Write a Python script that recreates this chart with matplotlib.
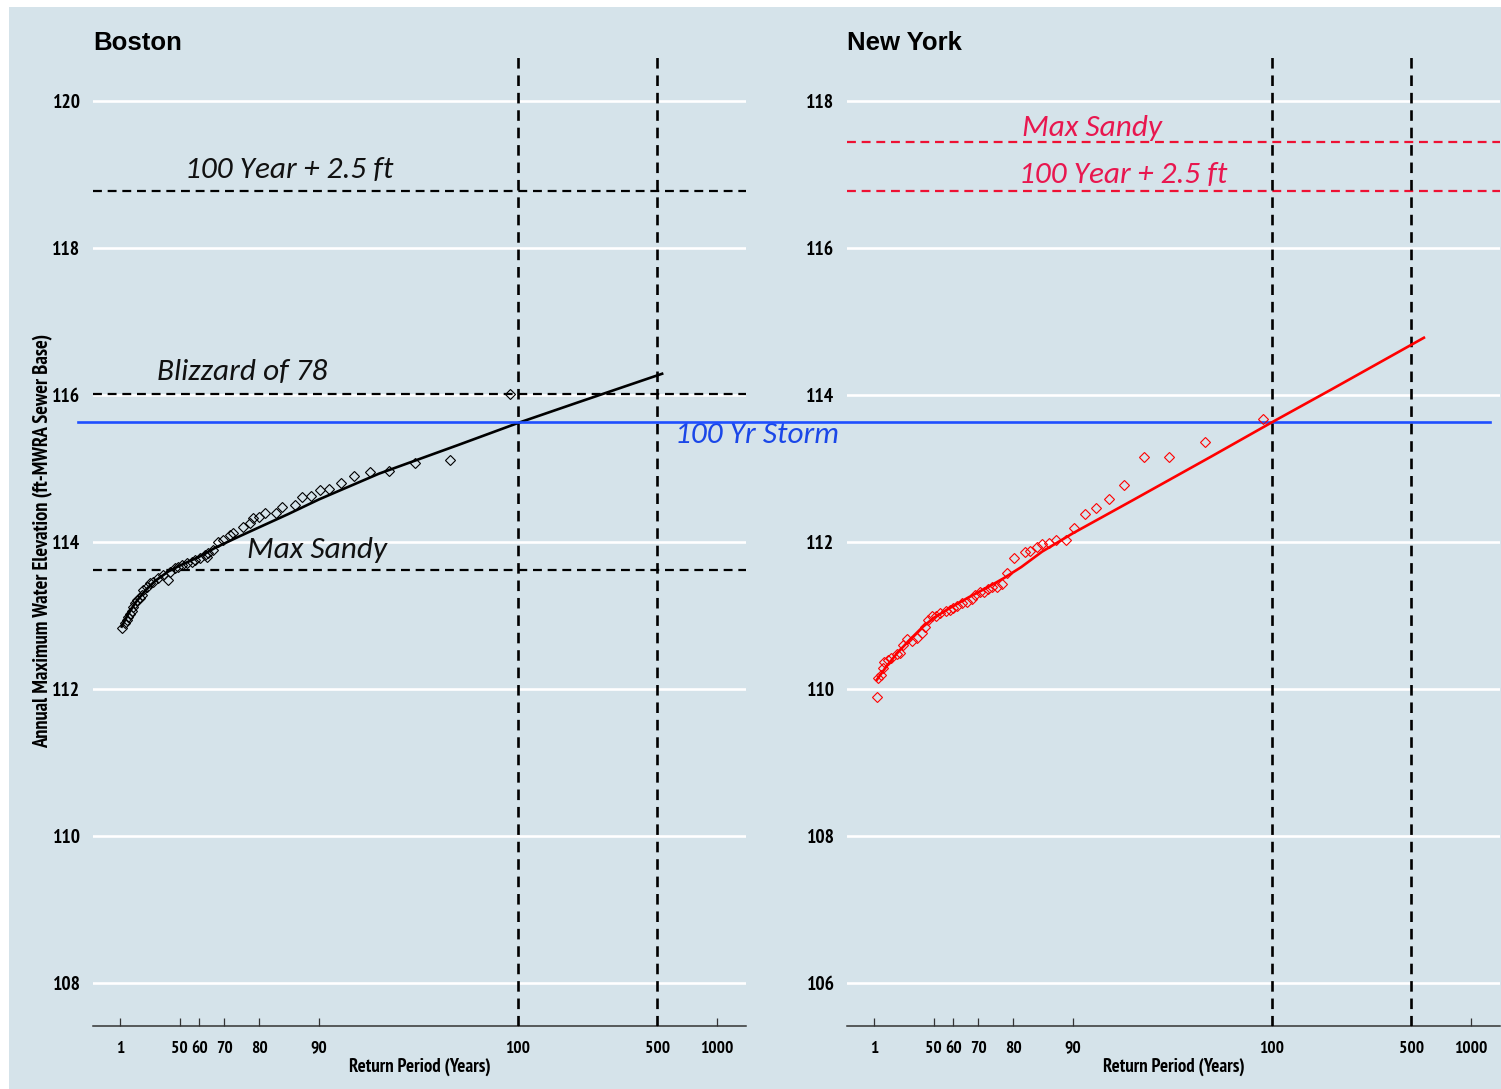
import matplotlib
matplotlib.use('Agg')
import matplotlib.pyplot as plt
from matplotlib import font_manager
from matplotlib.transforms import blended_transform_factory
from matplotlib.patches import Rectangle

# ---------------- data ----------------
tick_T = [1, 2, 2.5, 10 / 3, 5, 10, 100, 500, 1000]
tick_labels = ['1', '50', '60', '70', '80', '90', '100', '500', '1000']

bos_T = [1.02, 1.06, 1.08, 1.10, 1.12, 1.15, 1.16, 1.19, 1.22, 1.26, 1.29, 1.31,
         1.37, 1.41, 1.47, 1.55, 1.64, 1.74, 1.78, 1.89, 1.96, 2.05, 2.17, 2.30,
         2.38, 2.52, 2.67, 2.73, 2.77, 2.93, 3.1, 3.29, 3.57, 3.7, 4.15, 4.5,
         4.66, 5.0, 5.35, 6.1, 6.5, 7.6, 8.2, 9.1, 10.1, 11.2, 12.9, 15.0, 18.0,
         22.5, 30.4, 45.5, 91]
bos_el = [112.83, 112.90, 112.94, 112.98, 113.02, 113.06, 113.12, 113.17, 113.21,
          113.24, 113.28, 113.35, 113.39, 113.44, 113.46, 113.51, 113.55, 113.48,
          113.59, 113.65, 113.66, 113.69, 113.71, 113.73, 113.76, 113.78, 113.82,
          113.80, 113.85, 113.89, 114.00, 114.03, 114.10, 114.12, 114.20, 114.26,
          114.33, 114.34, 114.39, 114.39, 114.48, 114.50, 114.61, 114.63, 114.71,
          114.72, 114.80, 114.90, 114.95, 114.97, 115.07, 115.12, 116.01]

bos_fit_T = [1.02, 1.1, 1.2, 1.35, 1.5, 1.75, 2, 2.5, 3, 4, 5, 7, 10, 20, 50, 100, 200, 530]
bos_fit_el = [112.85, 113.02, 113.18, 113.35, 113.47, 113.60, 113.68, 113.80, 113.92,
              114.08, 114.20, 114.38, 114.58, 114.93, 115.32, 115.62, 115.90, 116.29]

ny_T = [1.03, 1.05, 1.08, 1.11, 1.12, 1.18, 1.22, 1.30, 1.35, 1.40, 1.46, 1.55, 1.64,
        1.74, 1.80, 1.87, 1.96, 2.05, 2.15, 2.30, 2.40, 2.49, 2.60, 2.77, 2.93, 3.10,
        3.22, 3.41, 3.57, 3.75, 3.92, 4.15, 4.4, 4.65, 5.05, 5.75, 6.1, 6.6, 7.0, 7.6,
        8.2, 9.2, 10.1, 11.5, 13.0, 15.1, 18.0, 22.7, 30.4, 46.1, 90.1]
ny_el = [109.89, 110.15, 110.19, 110.29, 110.37, 110.39, 110.42, 110.47, 110.49, 110.60,
         110.68, 110.66, 110.69, 110.76, 110.84, 110.94, 110.99, 111.00, 111.03, 111.06,
         111.08, 111.10, 111.13, 111.17, 111.18, 111.23, 111.28, 111.32, 111.32, 111.36,
         111.39, 111.39, 111.43, 111.58, 111.78, 111.86, 111.88, 111.93, 111.97, 111.99,
         112.03, 112.03, 112.19, 112.38, 112.46, 112.58, 112.78, 113.16, 113.16, 113.36,
         113.67]

ny_fit_T = [1.03, 1.15, 1.3, 1.5, 1.75, 2.0, 2.4, 3.0, 3.7, 4.5, 5.5, 7, 10, 20, 50, 100, 200, 580]
ny_fit_el = [110.12, 110.30, 110.48, 110.66, 110.84, 110.97, 111.10, 111.25, 111.38,
             111.51, 111.66, 111.87, 112.12, 112.57, 113.17, 113.63, 114.08, 114.78]

storm_100yr = 115.63          # Boston datum (same line on both panels)
bos_refs = [118.78, 116.01, 113.62]
bos_ref_labels = ['100 Year + 2.5 ft', 'Blizzard of 78', 'Max Sandy']
ny_refs = [117.44, 116.78]
ny_ref_labels = ['Max Sandy', '100 Year + 2.5 ft']
vlines_T = [100, 500]

# ---------------- style ----------------
NARROW = ['PT Sans Narrow', 'Roboto Condensed', 'Liberation Sans']
ANN = ['Carlito', 'Open Sans']
BG = '#d5e3ea'
W, H = 1501, 1089

fig = plt.figure(figsize=(W / 100, H / 100), dpi=100, facecolor='white')
fig.add_artist(Rectangle((9 / W, 0), 1 - 9 / W, 1 - 7 / H, transform=fig.transFigure,
                         facecolor=BG, edgecolor='none', zorder=-10))

def px_ax(x0, x1, ytop, ybot):
    return [x0 / W, 1 - ybot / H, (x1 - x0) / W, (ybot - ytop) / H]

ax1 = fig.add_axes(px_ax(93, 746, 57, 1026))
ax2 = fig.add_axes(px_ax(847, 1500, 57, 1026))

def style(ax, ylim, yticks):
    ax.set_facecolor('none')
    ax.set_xscale('log')
    ax.set_xlim(0.732, 1399)
    ax.set_ylim(*ylim)
    ax.set_xticks(tick_T)
    ax.set_xticklabels(tick_labels)
    ax.minorticks_off()
    ax.set_yticks(yticks)
    ax.set_yticklabels([str(v) for v in yticks])
    for s in ['top', 'right', 'left']:
        ax.spines[s].set_visible(False)
    ax.spines['bottom'].set_color('#333333')
    ax.spines['bottom'].set_linewidth(1.1)
    ax.tick_params(axis='x', direction='in', length=6, width=0.9, color='#333333', pad=10.5)
    ax.tick_params(axis='y', length=0, pad=9)
    for lab in ax.get_xticklabels():
        lab.set_fontfamily(NARROW); lab.set_fontweight('bold'); lab.set_fontsize(12.5)
    for lab in ax.get_yticklabels():
        lab.set_fontfamily(NARROW); lab.set_fontweight('bold'); lab.set_fontsize(14)
    ax.grid(axis='y', color='white', linewidth=1.9, zorder=0)
    ax.grid(axis='x', visible=False)
    ax.set_axisbelow(True)
    ax.set_xlabel('Return Period (Years)', fontfamily=NARROW, fontweight='bold',
                  fontsize=13.5, labelpad=1)
    for t in vlines_T:
        ax.axvline(t, color='black', linestyle=(0, (4, 2.6)), linewidth=1.9, zorder=3)

style(ax1, (107.415, 120.6), [108, 110, 112, 114, 116, 118, 120])
style(ax2, (105.415, 118.6), [106, 108, 110, 112, 114, 116, 118])

# Boston
for yv in bos_refs:
    ax1.axhline(yv, color='black', linestyle=(0, (4, 2.6)), linewidth=1.6, zorder=2)
ann_kw = dict(fontfamily=ANN, fontstyle='italic', fontsize=22.5, va='center', ha='left')
ax1.text(2.12, 119.06, bos_ref_labels[0], color='#111111', **ann_kw)
ax1.text(1.53, 116.31, bos_ref_labels[1], color='#111111', **ann_kw)
ax1.text(4.35, 113.89, bos_ref_labels[2], color='#111111', **ann_kw)
ax1.plot(bos_fit_T, bos_fit_el, color='black', linewidth=1.9, zorder=4)
ax1.plot(bos_T, bos_el, linestyle='none', marker='D', markersize=4.6,
         markerfacecolor='none', markeredgecolor='black', markeredgewidth=0.8, zorder=5)

# New York
for yv in ny_refs:
    ax2.axhline(yv, color='#ee1133', linestyle=(0, (4, 2.6)), linewidth=1.6, zorder=2)
ax2.text(5.54, 117.63, ny_ref_labels[0], color='#e8174f', **ann_kw)
ax2.text(5.35, 116.99, ny_ref_labels[1], color='#e8174f', **ann_kw)
ax2.plot(ny_fit_T, ny_fit_el, color='#ff0000', linewidth=1.9, zorder=4)
ax2.plot(ny_T, ny_el, linestyle='none', marker='D', markersize=4.6,
         markerfacecolor='none', markeredgecolor='#ff0000', markeredgewidth=0.8, zorder=5)

# 100-year storm line across both panels
tr = blended_transform_factory(fig.transFigure, ax1.transData)
ax1.plot([78 / W, 1490 / W], [storm_100yr, storm_100yr], transform=tr, color='#1f4fff',
         linewidth=1.9, clip_on=False, zorder=6)
ax1.text(675 / W, 115.45, '100 Yr Storm', transform=tr, color='#1a47e8', clip_on=False,
         **ann_kw)

# titles and y label
fig.text(93 / W, 1 - 43 / H, 'Boston', fontfamily='Liberation Sans', fontweight='bold',
         fontsize=18.5, ha='left', va='center')
fig.text(847 / W, 1 - 43 / H, 'New York', fontfamily='Liberation Sans', fontweight='bold',
         fontsize=18.5, ha='left', va='center')
fig.text(43 / W, 1 - 541 / H, 'Annual Maximum Water Elevation (ft-MWRA Sewer Base)',
         rotation=90, fontfamily=NARROW, fontweight='bold', fontsize=14.8,
         ha='center', va='center')

fig.savefig('out.png', dpi=100, facecolor='white')
